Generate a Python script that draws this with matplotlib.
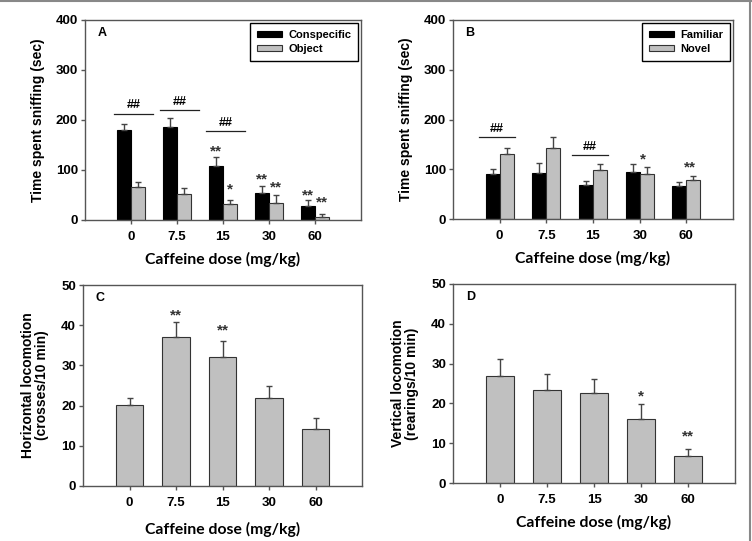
import matplotlib
matplotlib.use("Agg")
import matplotlib.pyplot as plt
import numpy as np
from matplotlib.lines import Line2D
from matplotlib.transforms import offset_copy

# ---------------- data ----------------
doses = ["0", "7.5", "15", "30", "60"]

# Panel A
a_consp = [181, 186, 108, 54, 28]
a_consp_err = [193, 205, 127, 68, 40]
a_object = [66, 52, 33, 35, 6]
a_object_err = [77, 65, 41, 50, 13]
a_hash_groups = [0, 1, 2]
a_hash_y = [213, 220, 178]
a_star_consp = ["", "", "**", "**", "**"]
a_star_consp_y = [0, 0, 145, 89, 58]
a_star_obj = ["", "", "*", "**", "**"]
a_star_obj_y = [0, 0, 69, 73, 43]

# Panel B
b_fam = [90, 93, 68, 95, 66]
b_fam_err = [100, 112, 76, 111, 74]
b_novel = [131, 143, 99, 91, 78]
b_novel_err = [142, 165, 111, 104, 86]
b_hash_groups = [0, 2]
b_hash_y = [165, 129]
b_star_novel = ["", "", "", "*", "**"]
b_star_novel_y = [0, 0, 0, 128, 111]

# Panel C
c_vals = [20.2, 37.1, 32.1, 21.8, 14.1]
c_err = [21.9, 40.7, 36.0, 25.0, 16.9]
c_star = ["", "**", "**", "", ""]
c_star_y = [0, 43.5, 39.8, 0, 0]

# Panel D
d_vals = [27.0, 23.3, 22.5, 16.2, 6.9]
d_err = [31.2, 27.5, 26.1, 19.8, 8.6]
d_star = ["", "", "", "*", "**"]
d_star_y = [0, 0, 0, 22.7, 12.7]

# ---------------- style ----------------
W, H = 752, 541
fig = plt.figure(figsize=(W / 100, H / 100), dpi=100)
SP = "#555555"
GRAY = "#c0c0c0"
EDGE = "#333333"
TICKFONT = dict(family="Liberation Sans", weight="bold", size=9.5)
YLFONT = dict(family="Liberation Sans", weight="bold", size=10)
XLFONT = dict(family="Lato", weight="bold", size=11.3)


def make_ax(l, t, r, b):
    return fig.add_axes([l / W, 1 - b / H, (r - l) / W, (b - t) / H])


def style(ax, ymax, ystep, letter, ylabel, ylabelpad, xlabelpad):
    x = np.arange(len(doses))
    ax.set_xlim(-1, 5)
    ax.set_ylim(0, ymax)
    ax.set_xticks(x)
    ax.set_xticklabels(doses, **TICKFONT)
    yt = np.arange(0, ymax + 1e-9, ystep)
    ax.set_yticks(yt)
    ax.set_yticklabels([f"{v:g}" for v in yt], **TICKFONT)
    for s in ax.spines.values():
        s.set_color(SP)
        s.set_linewidth(1.0)
    ax.tick_params(direction="out", length=3, width=1, color=SP, pad=2)
    ax.tick_params(axis="x", pad=5)
    ax.set_xlabel("Caffeine dose (mg/kg)", labelpad=xlabelpad, **XLFONT)
    ax.set_ylabel(ylabel, labelpad=ylabelpad, linespacing=1.0, **YLFONT)
    ax.text(0.045, 0.965, letter, transform=ax.transAxes, ha="left", va="top",
            family="Liberation Sans", weight="bold", size=9)


def stars(ax, xs, labels, ys, size=11):
    tr = offset_copy(ax.transData, fig=fig, x=0, y=-8, units="dots")
    for xx, lab, yy in zip(xs, labels, ys):
        if lab:
            ax.text(xx, yy, lab, transform=tr, ha="center", va="baseline",
                    family="Liberation Sans", weight="bold", size=size, color="#333333")


def hashes(ax, groups, ys, lo, hi):
    for g, yy in zip(groups, ys):
        ax.plot([g + lo, g + hi], [yy, yy], color="#222222", lw=0.9)
        ax.text(g + (lo + hi) / 2, yy + 4, "##", ha="center", va="bottom",
                family="Liberation Sans", weight="bold", size=9)


def errbars(ax, xs, vals, tops):
    up = np.array(tops) - np.array(vals)
    ax.errorbar(xs, vals, yerr=[np.zeros_like(up), up], fmt="none",
                ecolor="#444444", elinewidth=1, capsize=2.5, capthick=1)


x = np.arange(len(doses))
bw = 0.30

# ---- Panel A ----
axA = make_ax(85, 20, 361, 220)
axA.bar(x - bw / 2, a_consp, bw, color="black", edgecolor="black", lw=0.8, label="Conspecific", zorder=2)
axA.bar(x + bw / 2, a_object, bw, color=GRAY, edgecolor=EDGE, lw=0.8, label="Object", zorder=2)
errbars(axA, x - bw / 2, a_consp, a_consp_err)
errbars(axA, x + bw / 2, a_object, a_object_err)
hashes(axA, a_hash_groups, a_hash_y, -0.36, 0.48)
stars(axA, x - bw / 2, a_star_consp, a_star_consp_y)
stars(axA, x + bw / 2, a_star_obj, a_star_obj_y)
style(axA, 400, 100, "A", "Time spent sniffing (sec)", 8, 6)

# ---- Panel B ----
axB = make_ax(453, 20, 733, 219)
axB.bar(x - bw / 2, b_fam, bw, color="black", edgecolor="black", lw=0.8, label="Familiar", zorder=2)
axB.bar(x + bw / 2, b_novel, bw, color=GRAY, edgecolor=EDGE, lw=0.8, label="Novel", zorder=2)
errbars(axB, x - bw / 2, b_fam, b_fam_err)
errbars(axB, x + bw / 2, b_novel, b_novel_err)
hashes(axB, b_hash_groups, b_hash_y, -0.45, 0.33)
stars(axB, x + bw / 2 - 0.08, b_star_novel, b_star_novel_y)
style(axB, 400, 100, "B", "Time spent sniffing (sec)", 8, 6)

for ax in (axA, axB):
    leg = ax.legend(loc="upper right", frameon=True, fancybox=False, edgecolor="black",
                    framealpha=1, borderaxespad=0.3, handlelength=2.3, handleheight=0.45,
                    handletextpad=0.5, labelspacing=0.35, borderpad=0.6,
                    prop=dict(family="Liberation Sans", weight="bold", size=8))
    leg.get_frame().set_linewidth(1.0)

# ---- Panel C ----
cw = 0.6
axC = make_ax(83, 285, 362, 486)
axC.bar(x, c_vals, cw, color=GRAY, edgecolor=EDGE, lw=0.8, zorder=2)
errbars(axC, x, c_vals, c_err)
stars(axC, x, c_star, c_star_y)
style(axC, 50, 10, "C", "Horizontal locomotion\n(crosses/10 min)", 9, 9)

# ---- Panel D ----
axD = make_ax(453, 284, 735, 483)
axD.bar(x, d_vals, cw, color=GRAY, edgecolor=EDGE, lw=0.8, zorder=2)
errbars(axD, x, d_vals, d_err)
stars(axD, x, d_star, d_star_y)
style(axD, 50, 10, "D", "Vertical locomotion\n(rearings/10 min)", 9, 6)

# figure border (top and right)
fig.add_artist(Line2D([0, 1], [0.998, 0.998], transform=fig.transFigure, color="#888888", lw=1.5))
fig.add_artist(Line2D([0.9975, 0.9975], [0, 1], transform=fig.transFigure, color="#888888", lw=1.5))

fig.savefig("out.png", dpi=100)
